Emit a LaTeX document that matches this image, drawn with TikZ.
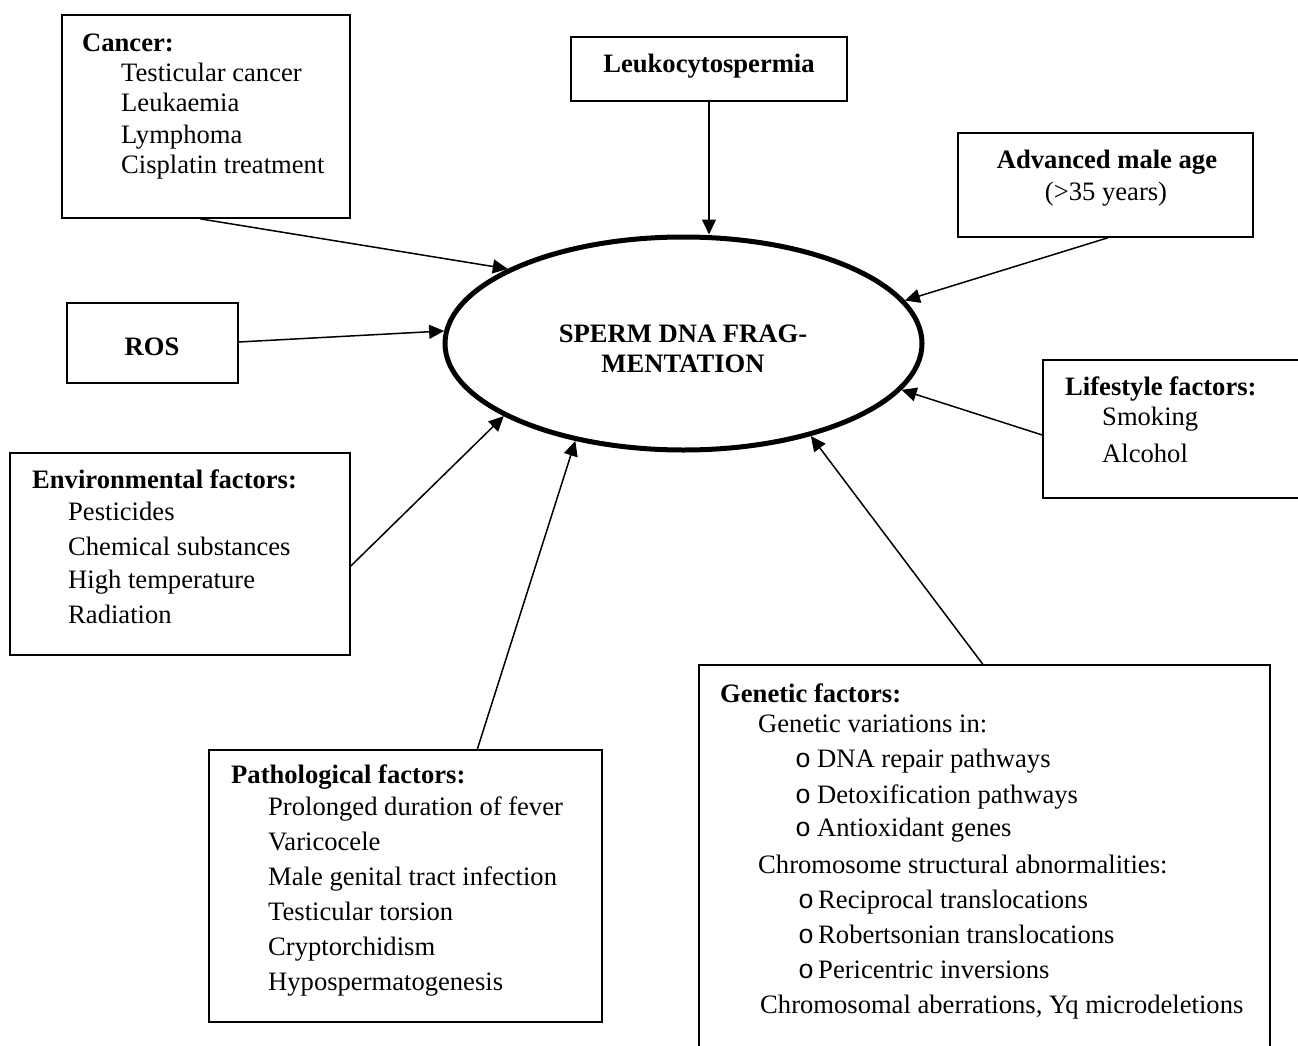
\documentclass[tikz,border=0pt]{standalone}
\usepackage{fontspec}
\setmainfont{Liberation Serif}
\newfontfamily\bulletfont{Liberation Mono}
\usetikzlibrary{arrows.meta,fit,calc,shapes.geometric}
\begin{document}
\begin{tikzpicture}[x=1pt,y=-1pt,
  box/.style={draw, line width=1.6pt, inner sep=0pt},
  txt/.style={inner sep=0pt, anchor=base west, font=\fontsize{26.6}{32}\selectfont},
  btxt/.style={txt, font=\fontsize{26.6}{32}\selectfont\bfseries},
  ctxt/.style={inner sep=0pt, anchor=base, font=\fontsize{26.6}{32}\selectfont},
  cbtxt/.style={ctxt, font=\fontsize{26.6}{32}\selectfont\bfseries},
  bul/.style={txt, font=\fontsize{26.6}{32}\bulletfont},
  arr/.style={line width=1.5pt, -{Triangle[length=15pt,width=14pt]}},
]
\useasboundingbox (0,0) rectangle (1298,1046);
\clip (0,0) rectangle (1298,1046);

% central ellipse
\node[draw, ellipse, line width=5pt, minimum width=477pt, minimum height=213pt, inner sep=0pt] (sdf) at (683.5,343.5) {};
\node[cbtxt] (sdf1) at (683,342) {SPERM DNA FRAG-};
\node[cbtxt] (sdf2) at (683,372) {MENTATION};

% boxes
\node[box, fit={(62,15) (350,218)}] (cancer) {};
\node[box, fit={(571,37) (847,101)}] (leuk) {};
\node[box, fit={(958,133) (1253,237)}] (age) {};
\node[box, fit={(67,303) (238,383)}] (ros) {};
\node[box, fit={(1043,360) (1302,498)}] (life) {};
\node[box, fit={(10,453) (350,655)}] (env) {};
\node[box, fit={(209,750) (602,1022)}] (path) {};
\node[box, fit={(699,665) (1270,1052)}] (gen) {};

% cancer text
\node[btxt] (c0) at (82,52) {Cancer:};
\node[txt] (c1) at (121,82) {Testicular cancer};
\node[txt] (c2) at (121,112) {Leukaemia};
\node[txt] (c3) at (121,143) {Lymphoma};
\node[txt] (c4) at (121,173) {Cisplatin treatment};

% leukocytospermia
\node[cbtxt] (l0) at (709,73) {Leukocytospermia};

% age
\node[cbtxt] (a0) at (1107,168) {Advanced male age};
\node[ctxt] (a1) at (1106,200) {(>35 years)};

% ROS
\node[cbtxt] (r0) at (152,355) {ROS};

% lifestyle
\node[btxt] (s0) at (1065,395) {Lifestyle factors:};
\node[txt] (s1) at (1102,425) {Smoking};
\node[txt] (s2) at (1102,462) {Alcohol};

% environmental
\node[btxt] (e0) at (32,488) {Environmental factors:};
\node[txt] (e1) at (68,520) {Pesticides};
\node[txt] (e2) at (68,555) {Chemical substances};
\node[txt] (e3) at (68,588) {High temperature};
\node[txt] (e4) at (68,623) {Radiation};

% pathological
\node[btxt] (p0) at (231,783) {Pathological factors:};
\node[txt] (p1) at (268,815) {Prolonged duration of fever};
\node[txt] (p2) at (268,850) {Varicocele};
\node[txt] (p3) at (268,885) {Male genital tract infection};
\node[txt] (p4) at (268,920) {Testicular torsion};
\node[txt] (p5) at (268,955) {Cryptorchidism};
\node[txt] (p6) at (268,990) {Hypospermatogenesis};

% genetic
\node[btxt] (g0) at (720,702) {Genetic factors:};
\node[txt] (g1) at (758,732) {Genetic variations in:};
\node[bul] (gb1) at (795,767) {o};
\node[txt] (g2) at (817,767) {DNA repair pathways};
\node[bul] (gb2) at (795,803) {o};
\node[txt] (g3) at (817,803) {Detoxification pathways};
\node[bul] (gb3) at (795,836) {o};
\node[txt] (g4) at (817,836) {Antioxidant genes};
\node[txt] (g5) at (758,873) {Chromosome structural abnormalities:};
\node[bul] (gb4) at (798,908) {o};
\node[txt] (g6) at (818,908) {Reciprocal translocations};
\node[bul] (gb5) at (798,943) {o};
\node[txt] (g7) at (818,943) {Robertsonian translocations};
\node[bul] (gb6) at (798,978) {o};
\node[txt] (g8) at (818,978) {Pericentric inversions};
\node[txt] (g9) at (760,1013) {Chromosomal aberrations, Yq microdeletions};

% connectors
\draw[arr] ($(cancer.south west)!0.479!(cancer.south east)$) -- (sdf.157.3);
\draw[arr] (leuk.south) -- (leuk.south |- sdf.north);
\draw[arr] ($(age.south west)!0.508!(age.south east)$) -- (sdf.11.4);
\draw[arr] ($(ros.north east)!0.4875!(ros.south east)$) -- (sdf.177);
\draw[arr] ($(life.north west)!0.543!(life.south west)$) -- (sdf.-12.7);
\draw[arr] ($(env.north east)!0.559!(env.south east)$) -- (sdf.-158.3);
\draw[arr] ($(path.north west)!0.682!(path.north east)$) -- (sdf.-138.4);
\draw[arr] ($(gen.north west)!0.497!(gen.north east)$) -- (sdf.-36.1);
\end{tikzpicture}
\end{document}
